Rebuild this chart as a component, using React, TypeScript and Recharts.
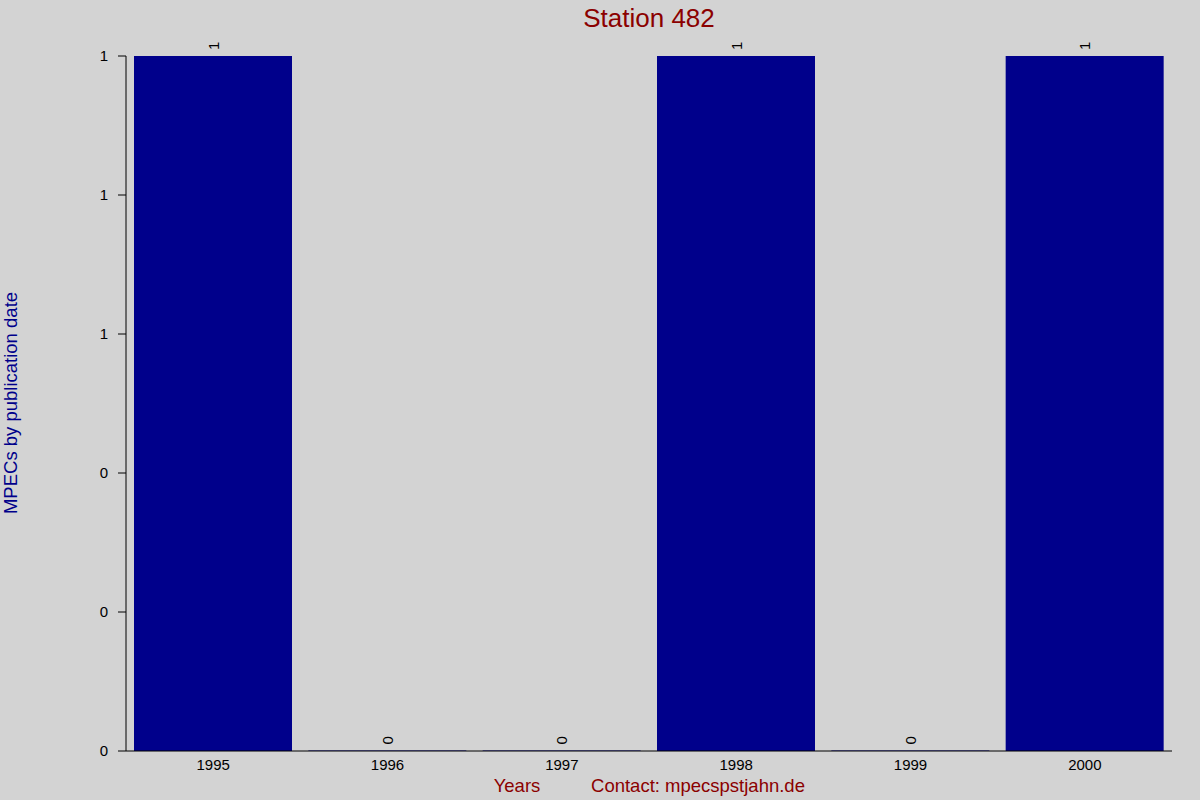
import React from 'react';
import { BarChart, Bar, XAxis, YAxis, LabelList, Customized } from 'recharts';

const years = ['1995', '1996', '1997', '1998', '1999', '2000'];
const counts = [1, 0, 0, 1, 0, 1];
const yTicks = [0, 0.2, 0.4, 0.6, 0.8, 1];

const data = years.map((y, i) => ({ year: y, count: counts[i] }));

const BG = '#d3d3d3';
const NAVY = '#00008b';
const DARKRED = '#8b0000';
const FONT = '"Liberation Sans", Arial, sans-serif';

const ValueLabel = (props: any) => {
  const { x, y, width, value } = props;
  const cx = Number(x) + Number(width) / 2;
  const ty = Number(y) - 6;
  return (
    <text
      x={cx}
      y={ty}
      transform={`rotate(-90, ${cx}, ${ty})`}
      textAnchor="start"
      dominantBaseline="central"
      fontSize={15}
      fontFamily={FONT}
      fill="#000"
    >
      {value}
    </text>
  );
};

const Decorations = () => (
  <g fontFamily={FONT}>
    <text x={649} y={27} textAnchor="middle" fontSize={26} fill={DARKRED}>
      Station 482
    </text>
    <text
      x={17}
      y={403}
      transform="rotate(-90, 17, 403)"
      textAnchor="middle"
      fontSize={18.5}
      fill={NAVY}
    >
      MPECs by publication date
    </text>
    <text x={517} y={792} textAnchor="middle" fontSize={18.5} fill={DARKRED}>
      Years
    </text>
    <text x={698} y={792} textAnchor="middle" fontSize={18.5} fill={DARKRED}>
      Contact: mpecspstjahn.de
    </text>
  </g>
);

export default function App() {
  return (
    <div style={{ position: 'absolute', left: 0, top: 0, width: 1200, height: 800, background: BG }}>
      <BarChart
        width={1200}
        height={800}
        data={data}
        margin={{ top: 56, right: 28, bottom: 0, left: 0 }}
        barCategoryGap={8}
        style={{ fontFamily: FONT }}
      >
        <XAxis
          dataKey="year"
          height={49}
          tickLine={false}
          axisLine={{ stroke: '#000' }}
          tick={{ fill: '#000', fontSize: 15, fontFamily: FONT }}
          interval={0}
        />
        <YAxis
          width={126}
          domain={[0, 1]}
          ticks={yTicks}
          tickFormatter={(v: number) => String(Math.round(v))}
          tickSize={8}
          tickMargin={10}
          tickLine={{ stroke: '#000' }}
          axisLine={{ stroke: '#000' }}
          tick={{ fill: '#000', fontSize: 15, fontFamily: FONT }}
        />
        <Bar dataKey="count" fill={NAVY} minPointSize={0.5} isAnimationActive={false}>
          <LabelList dataKey="count" content={ValueLabel} />
        </Bar>
        <Customized component={Decorations} />
      </BarChart>
    </div>
  );
}
